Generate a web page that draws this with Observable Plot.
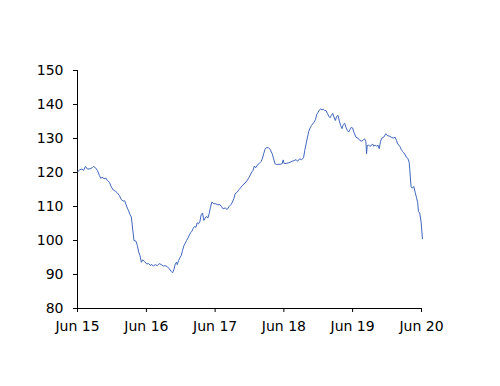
<!DOCTYPE html>
<html><head><meta charset="utf-8">
<script src="https://cdn.jsdelivr.net/npm/d3@7"></script>
<script src="https://cdn.jsdelivr.net/npm/@observablehq/plot@0.6"></script>
<style>body{margin:0;background:#fff}</style>
</head><body><div id="chart"></div>
<script>
// decimal years (time)
const years = [
2015.414,2015.443,2015.482,2015.501,2015.530,2015.559,2015.598,2015.627,2015.646,2015.675,
2015.704,2015.733,2015.752,2015.772,2015.801,2015.830,2015.849,2015.878,2015.907,2015.936,
2015.965,2015.994,2016.023,2016.052,2016.081,2016.100,2016.119,2016.139,2016.158,2016.177,
2016.197,2016.216,2016.235,2016.264,2016.284,2016.303,2016.322,2016.342,2016.361,2016.390,
2016.419,2016.448,2016.477,2016.486,2016.515,2016.544,2016.573,2016.602,2016.631,2016.660,
2016.689,2016.718,2016.747,2016.776,2016.795,2016.815,2016.834,2016.853,2016.863,2016.882,
2016.902,2016.921,2016.940,2016.960,2016.979,2016.998,2017.018,2017.037,2017.056,2017.076,
2017.095,2017.114,2017.134,2017.153,2017.172,2017.192,2017.211,2017.230,2017.250,2017.269,
2017.288,2017.308,2017.327,2017.346,2017.366,2017.395,2017.424,2017.453,2017.482,2017.501,
2017.530,2017.559,2017.588,2017.617,2017.646,2017.665,2017.685,2017.704,2017.733,2017.762,
2017.791,2017.820,2017.849,2017.878,2017.907,2017.926,2017.946,2017.965,2017.984,2018.004,
2018.023,2018.052,2018.081,2018.100,2018.120,2018.139,2018.158,2018.187,2018.215,2018.244,
2018.265,2018.284,2018.302,2018.331,2018.360,2018.389,2018.404,2018.418,2018.447,2018.476,
2018.505,2018.534,2018.563,2018.592,2018.613,2018.642,2018.671,2018.700,2018.718,2018.737,
2018.758,2018.776,2018.795,2018.815,2018.834,2018.853,2018.873,2018.892,2018.911,2018.931,
2018.950,2018.969,2018.989,2019.008,2019.027,2019.047,2019.066,2019.085,2019.105,2019.124,
2019.143,2019.163,2019.182,2019.201,2019.221,2019.240,2019.259,2019.279,2019.298,2019.317,
2019.337,2019.356,2019.375,2019.395,2019.414,2019.433,2019.462,2019.491,2019.520,2019.549,
2019.569,2019.588,2019.607,2019.617,2019.627,2019.646,2019.665,2019.685,2019.704,2019.723,
2019.743,2019.762,2019.781,2019.801,2019.820,2019.839,2019.868,2019.897,2019.917,2019.946,
2019.975,2020.004,2020.033,2020.052,2020.071,2020.100,2020.120,2020.139,2020.158,2020.178,
2020.197,2020.216,2020.236,2020.245,2020.255,2020.265,2020.284,2020.303,2020.323,2020.342,
2020.360,2020.371,2020.389,2020.410,2020.429
];
const values = [
120.1,120.8,121.0,120.6,121.8,121.0,121.1,121.4,121.8,121.4,
120.6,119.1,118.3,118.6,118.2,118.3,117.6,117.1,115.7,114.8,
114.5,114.0,113.2,112.0,111.6,111.7,110.6,109.5,108.7,107.6,
106.9,103.4,100.0,99.8,98.5,96.6,95.6,93.6,94.3,93.8,
93.1,93.2,92.6,93.0,92.5,92.9,92.6,93.2,92.9,92.5,
92.6,92.3,91.7,90.9,90.5,91.5,93.1,93.6,92.9,94.1,
94.9,95.6,97.1,98.5,99.2,100.0,100.7,101.5,102.3,102.7,
103.6,104.1,103.9,105.2,104.9,105.6,107.6,108.1,105.9,106.6,
107.1,106.6,107.9,109.8,111.3,110.8,110.8,110.5,110.6,110.1,
109.3,109.6,109.1,110.0,110.6,111.3,112.3,113.7,114.2,115.0,
115.7,116.4,116.9,117.6,118.6,119.3,120.1,120.6,121.9,121.4,
122.1,122.6,123.2,124.0,125.5,126.8,127.3,127.3,126.8,125.5,
124.0,122.6,122.4,122.4,122.4,122.6,123.7,122.6,122.7,122.8,
123.0,123.3,123.5,123.8,123.3,124.0,123.8,124.3,126.5,128.4,
130.4,132.1,133.1,133.8,134.3,134.8,135.5,137.1,137.7,138.4,
138.7,138.4,138.6,138.2,138.2,137.4,136.6,136.1,136.8,137.4,
136.3,135.3,136.5,136.8,135.1,133.8,132.9,134.1,134.5,133.3,
132.4,131.9,132.6,133.3,133.1,131.8,130.4,130.1,129.4,129.2,
129.6,129.9,129.1,125.5,127.9,128.1,127.7,127.9,128.4,127.7,
128.1,127.7,128.1,127.0,129.1,130.1,130.4,131.4,130.9,130.7,
130.4,130.1,130.4,129.4,128.4,127.7,126.8,126.2,125.8,125.2,
124.5,124.2,123.0,121.1,118.1,115.7,115.4,115.9,114.2,112.7,
111.1,108.5,108.1,105.4,100.5
];
const tickYears = [2015, 2016, 2017, 2018, 2019, 2020];
const tickLabels = ["Jun 15", "Jun 16", "Jun 17", "Jun 18", "Jun 19", "Jun 20"];
const yTicks = [80, 90, 100, 110, 120, 130, 140, 150];

function toDate(y) {
  const yr = Math.floor(y);
  const s = Date.UTC(yr, 0, 1), e = Date.UTC(yr + 1, 0, 1);
  return new Date(s + (y - yr) * (e - s));
}
const data = years.map((y, i) => ({date: toDate(y), value: values[i]}));
const tickDates = tickYears.map(y => new Date(Date.UTC(y, 5, 1)));
const labelOf = new Map(tickDates.map((d, i) => [+d, tickLabels[i]]));

const chart = Plot.plot({
  width: 500,
  height: 386,
  marginLeft: 77,
  marginRight: 79,
  marginTop: 70,
  marginBottom: 78,
  style: {fontFamily: "'DejaVu Sans', Verdana, sans-serif", fontSize: "14px", color: "#000", background: "#fff"},
  x: {type: "utc", domain: [tickDates[0], tickDates[tickDates.length - 1]]},
  y: {domain: [80, 150]},
  marks: [
    Plot.axisX({ticks: tickDates, tickFormat: d => labelOf.get(+d), tickSize: 4, tickPadding: 9, label: null, stroke: "#000"}),
    Plot.axisY({ticks: yTicks, tickSize: 4, tickPadding: 10, label: null, stroke: "#000"}),
    Plot.ruleY([80], {stroke: "#000", strokeWidth: 1}),
    Plot.ruleX([tickDates[0]], {stroke: "#000", strokeWidth: 1}),
    Plot.line(data, {x: "date", y: "value", stroke: "#3f66bf", strokeWidth: 1})
  ]
});
document.getElementById("chart").appendChild(chart);
</script>
</body></html>
